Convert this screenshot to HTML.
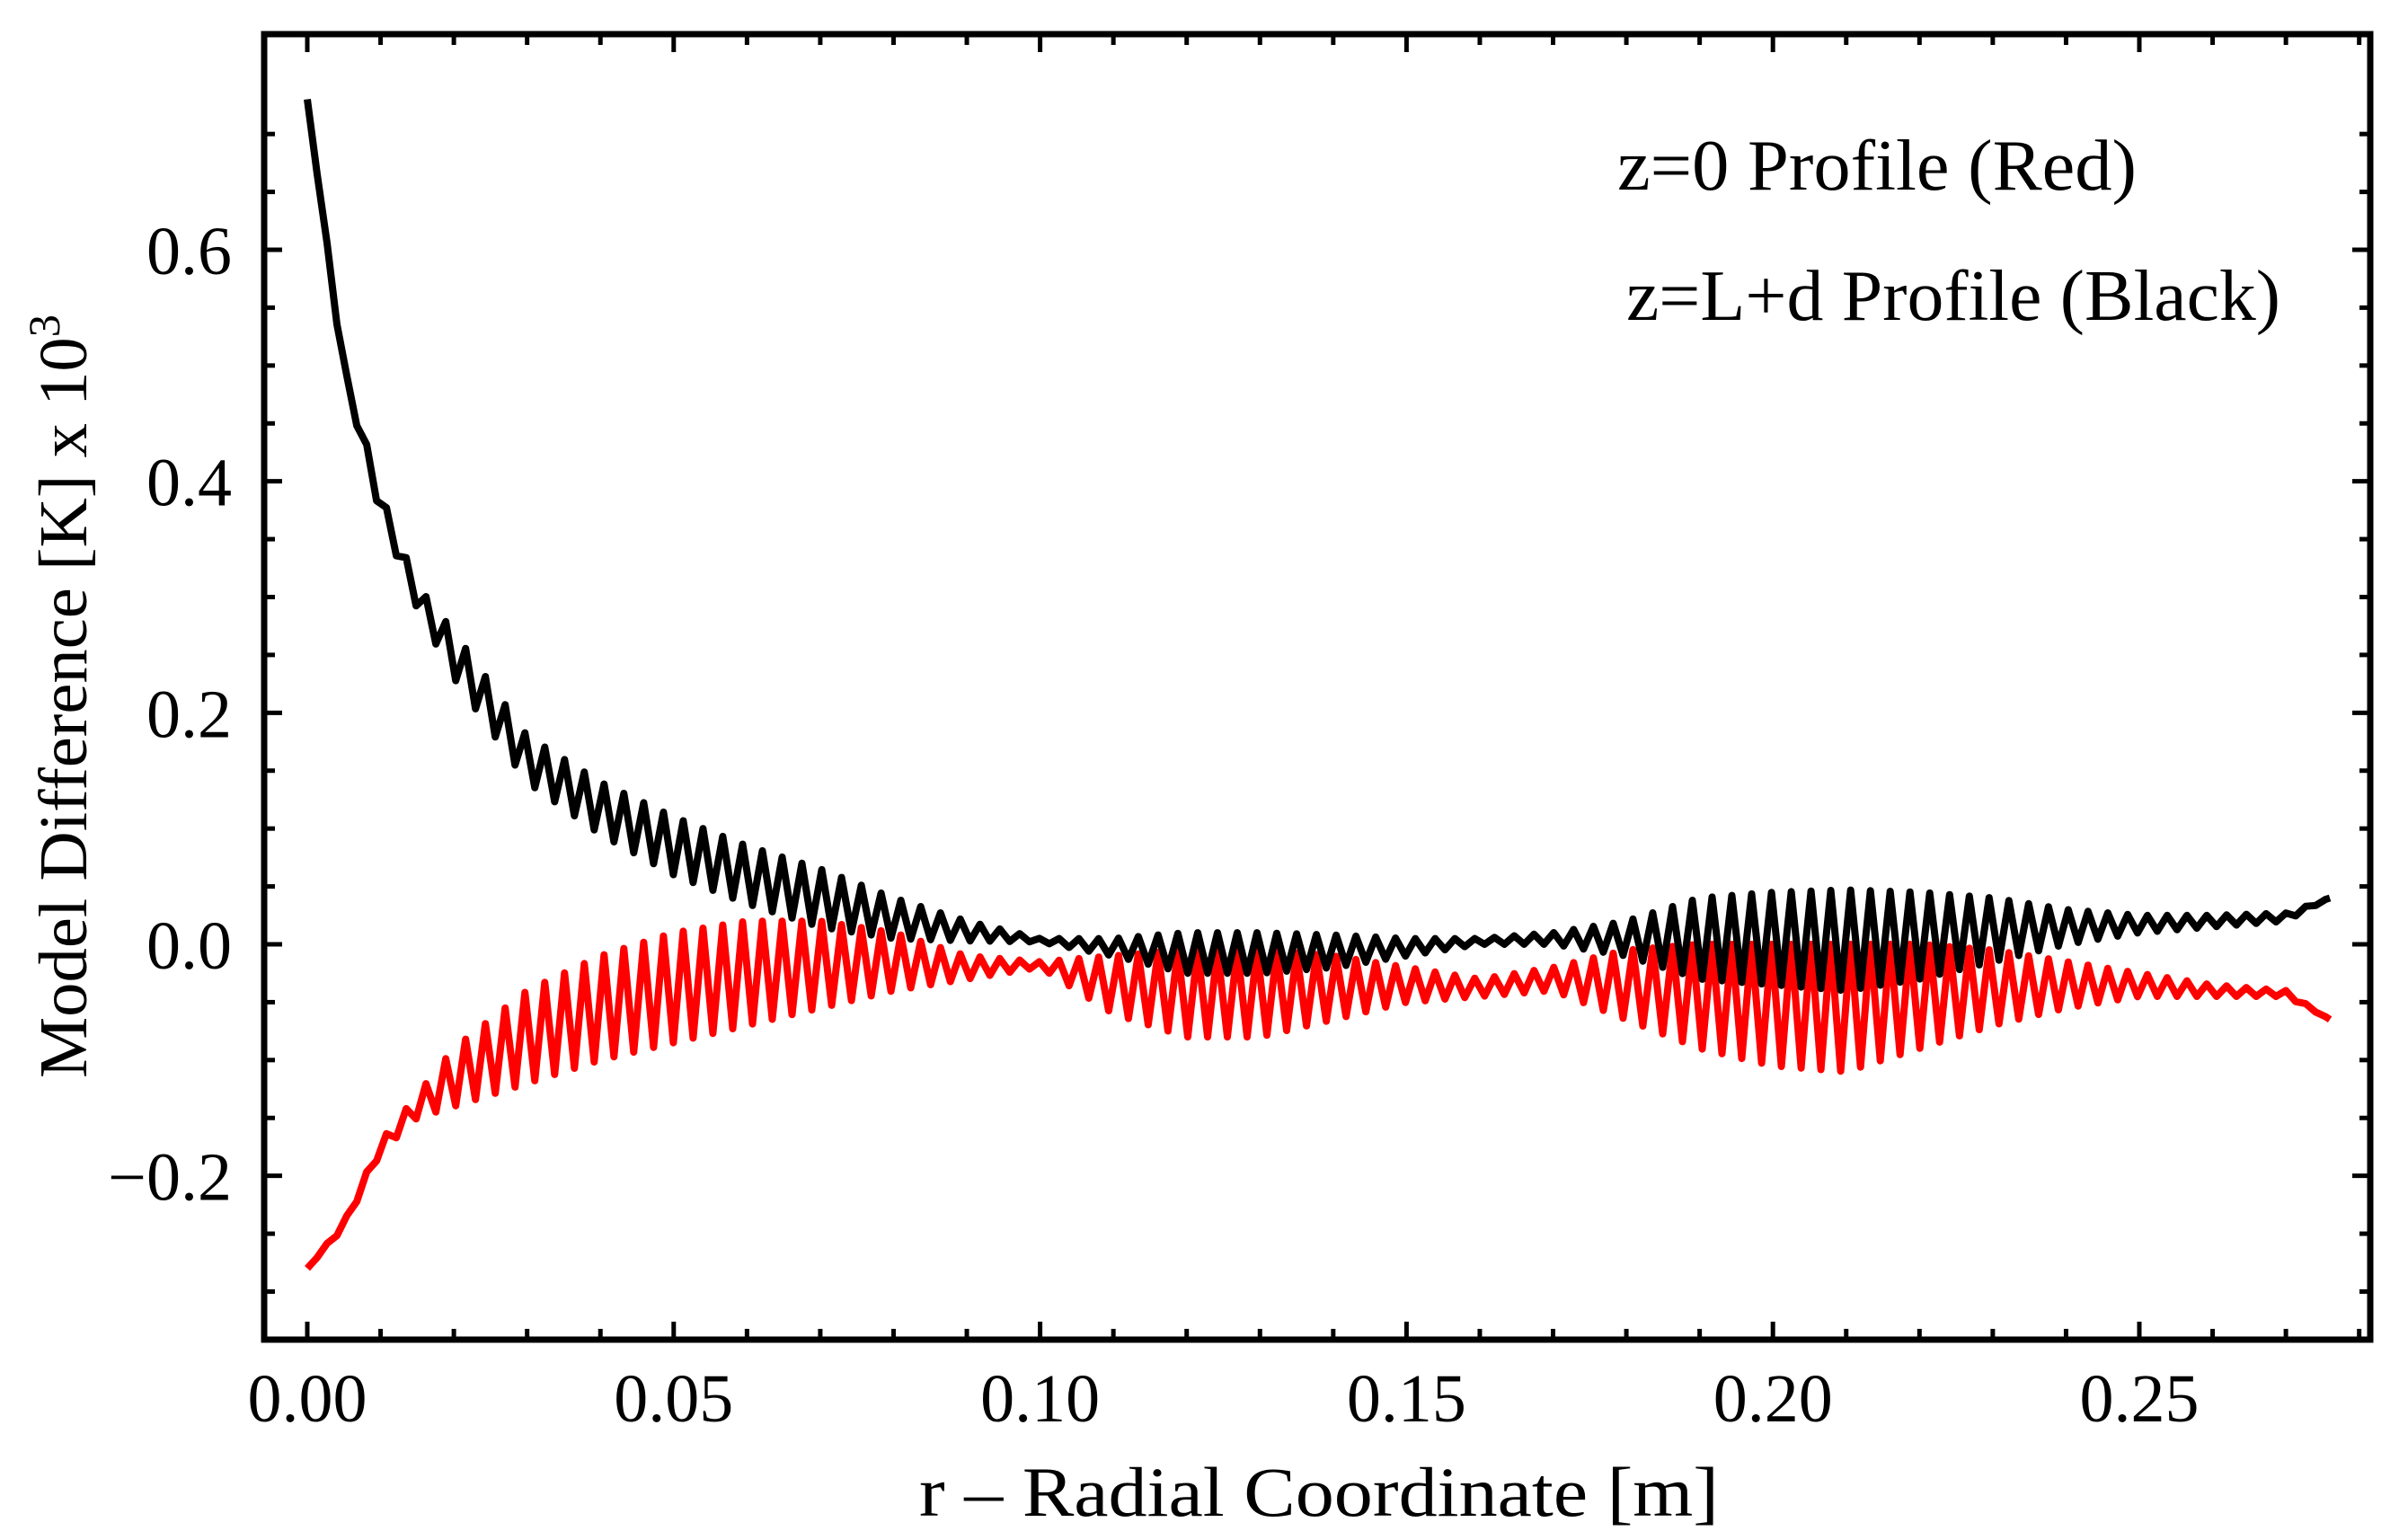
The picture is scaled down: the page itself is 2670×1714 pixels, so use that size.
<!DOCTYPE html>
<html><head><meta charset="utf-8"><style>
html,body{margin:0;padding:0;background:#fff;}
svg{display:block;font-family:"Liberation Serif",serif;}
</style></head><body>
<svg id="chart" width="2670" height="1714" viewBox="0 0 2670 1714" xmlns="http://www.w3.org/2000/svg">
<rect x="0" y="0" width="2670" height="1714" fill="#fff"/>
<g id="ticks"></g>
<g id="series"></g>
<rect x="294" y="38" width="2344" height="1453" fill="none" stroke="#000" stroke-width="7"/>
<g id="labels"></g>
<text x="1800" y="211" font-size="80" textLength="578" lengthAdjust="spacingAndGlyphs">z=0 Profile (Red)</text>
<text x="1810" y="356" font-size="80" textLength="728" lengthAdjust="spacingAndGlyphs">z=L+d Profile (Black)</text>
<text x="1023" y="1687" font-size="78" textLength="890" lengthAdjust="spacingAndGlyphs">r – Radial Coordinate [m]</text>
<text transform="translate(96,1200) rotate(-90)" font-size="76" textLength="850" lengthAdjust="spacingAndGlyphs">Model Difference [K] x 10<tspan dy="-30" font-size="50">3</tspan></text>
</svg>
<script>
const xTicks = [0, 0.05, 0.10, 0.15, 0.20, 0.25];
const xTickLabels = ["0.00","0.05","0.10","0.15","0.20","0.25"];
const yTicks = [-0.2, 0, 0.2, 0.4, 0.6];
const yTickLabels = ["\u22120.2","0.0","0.2","0.4","0.6"];
// envelope sample positions (m)
const envX = [0,0.005,0.01,0.015,0.02,0.03,0.04,0.05,0.06,0.07,0.08,0.09,0.10,0.11,0.12,0.13,0.14,0.15,0.16,0.17,0.18,0.19,0.20,0.21,0.22,0.23,0.24,0.25,0.26,0.27,0.276];
const blackHi = [0.73,0.50,0.39,0.31,0.27,0.18,0.14,0.11,0.085,0.065,0.04,0.02,0.005,0.005,0.01,0.01,0.008,0.005,0.005,0.01,0.02,0.04,0.045,0.047,0.045,0.04,0.03,0.025,0.025,0.027,0.04];
const blackLo = [0.73,0.49,0.37,0.29,0.23,0.14,0.095,0.06,0.035,0.015,0.005,0.003,0.002,-0.01,-0.025,-0.025,-0.02,-0.01,0.0,0.0,-0.01,-0.03,-0.035,-0.04,-0.03,-0.015,0.0,0.01,0.015,0.02,0.04];
const redHi = [-0.28,-0.24,-0.17,-0.13,-0.09,-0.04,-0.01,0.01,0.02,0.02,0.01,-0.01,-0.015,-0.01,-0.005,-0.005,-0.01,-0.02,-0.03,-0.02,-0.005,0.0,0.0,0.0,0.0,-0.005,-0.015,-0.025,-0.035,-0.04,-0.065];
const redLo = [-0.28,-0.245,-0.18,-0.15,-0.14,-0.12,-0.10,-0.085,-0.07,-0.055,-0.04,-0.03,-0.02,-0.06,-0.08,-0.08,-0.065,-0.05,-0.045,-0.04,-0.065,-0.09,-0.105,-0.11,-0.09,-0.07,-0.055,-0.045,-0.045,-0.045,-0.065];
const halfPeriod = 0.00135;

const X0=342, X1=2381, Y0=1051, Y06=278;
function sx(v){return X0+(X1-X0)*v/0.25;}
function sy(v){return Y0+(Y06-Y0)*v/0.6;}
const NS="http://www.w3.org/2000/svg";
function mk(tag,attrs,parent){const e=document.createElementNS(NS,tag);for(const k in attrs)e.setAttribute(k,attrs[k]);parent.appendChild(e);return e;}
const tk=document.getElementById('ticks'), lb=document.getElementById('labels'), sg=document.getElementById('series');
const L=294,R=2638,T=38,B=1491;
for(let i=0;i<=28;i++){const v=i*0.01;const x=sx(v);if(x>R-4)break;const major=i%5===0;const len=major?20:12;
 const a=mk('line',{x1:x,x2:x,y1:B,y2:B-len,stroke:'#000','stroke-width':5},tk);
 
 
 const b=mk('line',{x1:x,x2:x,y1:T,y2:T+len,stroke:'#000','stroke-width':5},tk);
 
 }
for(let i=-7;i<=14;i++){const v=i*0.05;const y=sy(v);if(y<T+4||y>B-4)continue;const major=i%4===0;const len=major?20:12;
 const a=mk('line',{x1:L,x2:L+len,y1:y,y2:y,stroke:'#000','stroke-width':5},tk);
 
 
 const b=mk('line',{x1:R,x2:R-len,y1:y,y2:y,stroke:'#000','stroke-width':5},tk);
 
 }
xTicks.forEach((v,i)=>{const t=mk('text',{x:sx(v),y:1582,'font-size':76,'text-anchor':'middle'},lb);t.textContent=xTickLabels[i];
 
 });
yTicks.forEach((v,i)=>{const t=mk('text',{x:258,y:sy(v)+27,'font-size':76,'text-anchor':'end'},lb);t.textContent=yTickLabels[i];
 
 });
function env(arr,x){for(let i=0;i<envX.length-1;i++){if(x<=envX[i+1]){const f=(x-envX[i])/(envX[i+1]-envX[i]);return arr[i]+(arr[i+1]-arr[i])*f;}}return arr[arr.length-1];}
function path(hi,lo,color,name){let d='';const xmax=envX[envX.length-1];let k=0;
 for(let x=0;x<=xmax+1e-9;x+=halfPeriod,k++){const v=(k%2===0)?env(hi,x):env(lo,x);d+=(k?'L':'M')+sx(x).toFixed(1)+' '+sy(v).toFixed(1);}
 d+='L'+sx(xmax).toFixed(1)+' '+sy(hi[hi.length-1]).toFixed(1);
 const p=mk('path',{d:d,fill:'none',stroke:color,'stroke-width':8,'stroke-linejoin':'round'},sg);
 
 }
path(redHi,redLo,'#ff0000','red-series-z0');
path(blackHi,blackLo,'#000000','black-series-zLd');
</script>
</body></html>
